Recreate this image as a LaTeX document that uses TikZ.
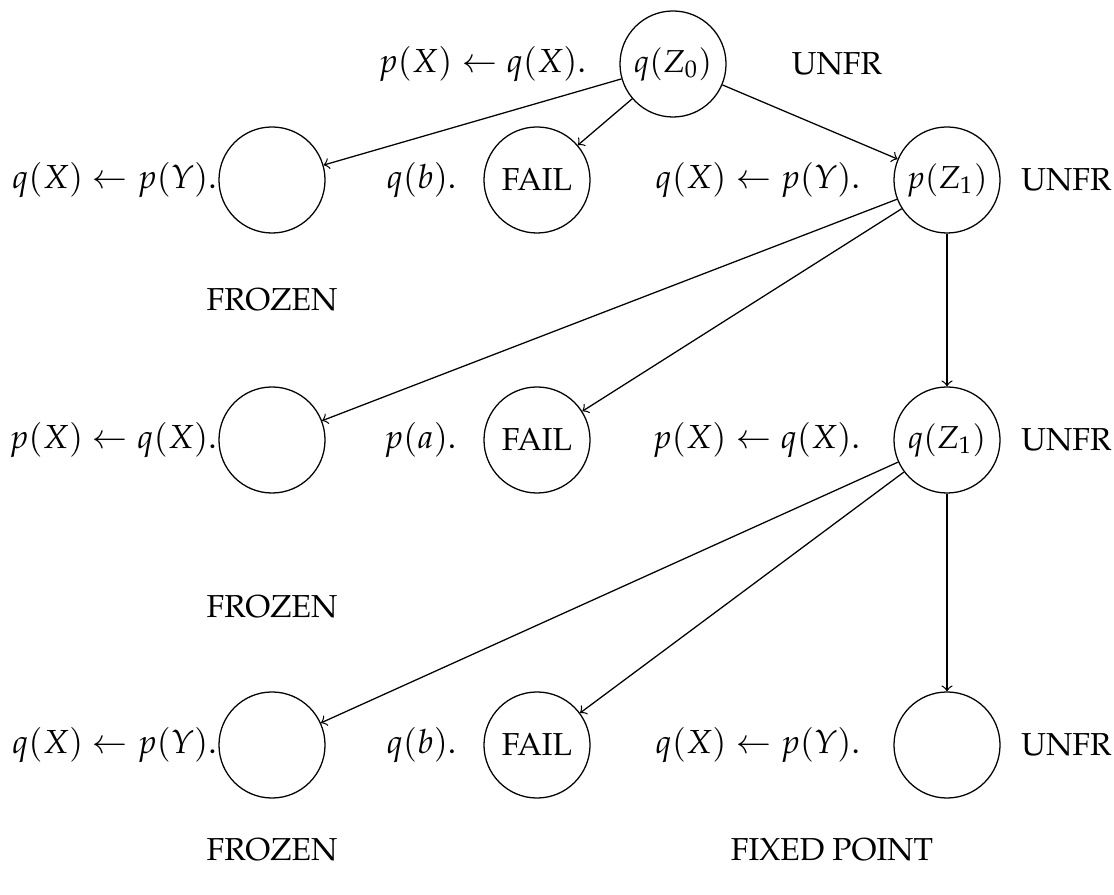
\documentclass[tikz,border=0pt]{standalone}
\usepackage[T1]{fontenc}
\usepackage{mathpazo}
\usetikzlibrary{positioning}

\begin{document}
\begin{tikzpicture}[
    x=0.315pt, y=-0.315pt,
    node distance=7pt,
    state/.style={
        circle,
        minimum size=33.4pt,
        inner sep=0pt,
        draw=black
    },
    clause/.style={
        font=\fontsize{10.5}{12}\selectfont
    },
    arrow/.style={
        ->
    }
]
\useasboundingbox (0,0) rectangle (1114,895);

% --- derivation nodes ---
\node (root) [state] at (673,64) {$q(Z_0)$};

\node (fr1) [state] at (272,180) {};
\node (fail1) [state] at (537,180) {FAIL};
\node (pz1) [state] at (947,180) {$p(Z_1)$};

\node (fr2) [state] at (272,440) {};
\node (fail2) [state] at (537,440) {FAIL};
\node (qz1) [state] at (947,440) {$q(Z_1)$};

\node (fr3) [state] at (272,745) {};
\node (fail3) [state] at (537,745) {FAIL};
\node (fix) [state] at (947,745) {};

% --- clauses used ---
\node (c0) [clause, left=of root] {$p(X) \leftarrow q(X).$};
\node (c1a) [clause, left=-3pt of fr1] {$q(X) \leftarrow p(Y).$};
\node (c1b) [clause, left=5pt of fail1] {$q(b).$};
\node (c1c) [clause, left=of pz1] {$q(X) \leftarrow p(Y).$};
\node (c2a) [clause, left=-3pt of fr2] {$p(X) \leftarrow q(X).$};
\node (c2b) [clause, left=5pt of fail2] {$p(a).$};
\node (c2c) [clause, left=of qz1] {$p(X) \leftarrow q(X).$};
\node (c3a) [clause, left=-3pt of fr3] {$q(X) \leftarrow p(Y).$};
\node (c3b) [clause, left=5pt of fail3] {$q(b).$};
\node (c3c) [clause, left=of fix] {$q(X) \leftarrow p(Y).$};

% --- status marks ---
\node (s0) [right=17pt of root] {UNFR};
\node (s1) [right=3pt of pz1] {UNFR};
\node (s2) [right=3pt of qz1] {UNFR};
\node (s3) [right=3pt of fix] {UNFR};
\node (z1) at (272,300) {FROZEN};
\node (z2) at (272,607) {FROZEN};
\node (z3) at (272,850) {FROZEN};
\node (fp) at (832,850) {FIXED POINT};

% --- arrows ---
\draw [arrow] (root) -- (fr1);
\draw [arrow] (root) -- (fail1);
\draw [arrow] (root) -- (pz1);
\draw [arrow] (pz1) -- (fr2);
\draw [arrow] (pz1) -- (fail2);
\draw [arrow] (pz1) -- (qz1);
\draw [arrow] (qz1) -- (fr3);
\draw [arrow] (qz1) -- (fail3);
\draw [arrow] (qz1) -- (fix);

\end{tikzpicture}
\end{document}
